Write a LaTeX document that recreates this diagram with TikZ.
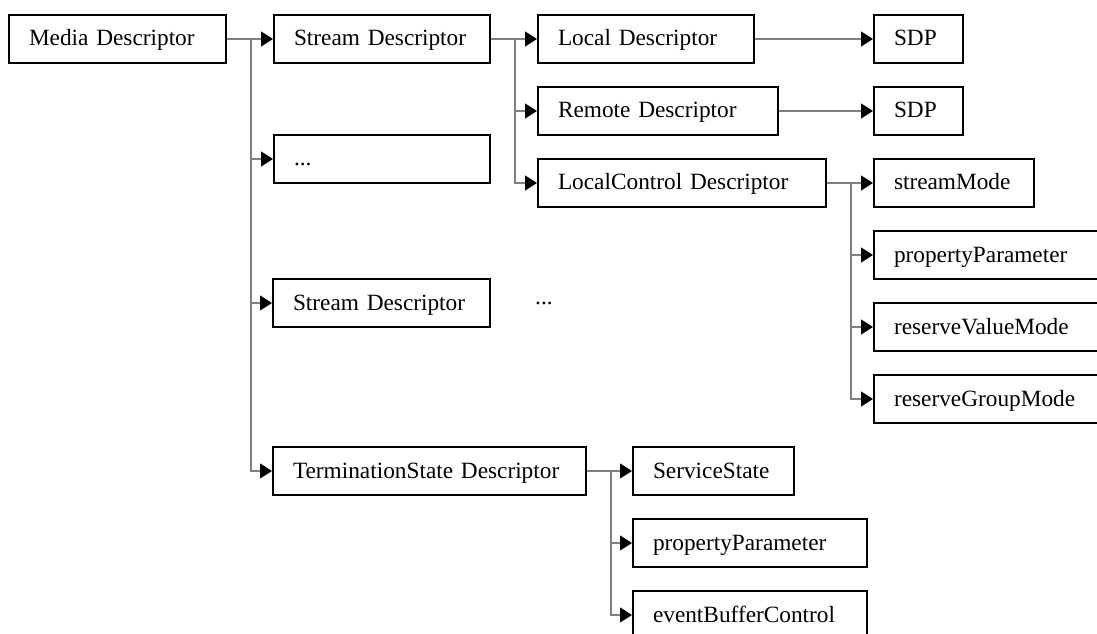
\documentclass[tikz,border=0pt]{standalone}
\usepackage{fontspec}
\setmainfont{Liberation Serif}
\usetikzlibrary{arrows.meta}

\tikzset{
  box/.style 2 args={draw=black, line width=2bp, anchor=north west,
    minimum width=#1, minimum height=48bp, text width=#1-40bp,
    inner xsep=20bp, inner ysep=0pt, align=left,
    text height=16bp, text depth=2bp,
    font=\fontsize{23.3bp}{28bp}\selectfont},
  conn/.style={draw=black!50, line width=1.2bp,
    -{Triangle[length=12bp, width=15bp, color=black, fill=black]}},
  plain/.style={anchor=base west, inner sep=0pt,
    font=\fontsize{23.3bp}{28bp}\selectfont}
}

\begin{document}
\begin{tikzpicture}[x=1bp, y=-1bp]
  \useasboundingbox (0,0) rectangle (1097,634);

  % first column
  \node[box={217bp}{}] (media) at (8,14) {Media Descriptor};

  % second column
  \node[box={216bp}{}] (sd1)  at (273,14)  {Stream Descriptor};
  \node[box={216bp}{}] (dots) at (273,134) {...};
  \node[box={217bp}{}] (sd2)  at (272,278) {Stream Descriptor};
  \node[box={313bp}{}] (term) at (272,446) {TerminationState Descriptor};
  \node[plain] (more) at (535,305) {...};

  % stream descriptor children
  \node[box={216bp}{}] (local)  at (537,14)  {Local Descriptor};
  \node[box={240bp}{}] (remote) at (537,86)  {Remote Descriptor};
  \node[box={288bp}{}] (lctrl)  at (537,158) {LocalControl Descriptor};

  \node[box={89bp}{}]  (sdpa) at (873,14) {SDP};
  \node[box={89bp}{}]  (sdpb) at (873,86) {SDP};

  % local control children
  \node[box={160bp}{}] (smode) at (873,158) {streamMode};
  \node[box={240bp}{}] (ppa)   at (873,230) {propertyParameter};
  \node[box={240bp}{}] (rvm)   at (873,302) {reserveValueMode};
  \node[box={240bp}{}] (rgm)   at (873,374) {reserveGroupMode};

  % termination state children
  \node[box={161bp}{}] (ss)  at (632,446) {ServiceState};
  \node[box={234bp}{}] (ppb) at (632,518) {propertyParameter};
  \node[box={234bp}{}] (ebc) at (632,590) {eventBufferControl};

  % connectors
  \draw[conn] (media.east) -- (sd1.west);
  \draw[conn] (media.east) -- ++(24,0) |- (dots.west);
  \draw[conn] (media.east) -- ++(24,0) |- (sd2.west);
  \draw[conn] (media.east) -- ++(24,0) |- (term.west);

  \draw[conn] (sd1.east) -- (local.west);
  \draw[conn] (sd1.east) -- ++(24,0) |- (remote.west);
  \draw[conn] (sd1.east) -- ++(24,0) |- (lctrl.west);

  \draw[conn] (local.east) -- (sdpa.west);
  \draw[conn] (remote.east) -- (sdpb.west);

  \draw[conn] (lctrl.east) -- (smode.west);
  \draw[conn] (lctrl.east) -- ++(24,0) |- (ppa.west);
  \draw[conn] (lctrl.east) -- ++(24,0) |- (rvm.west);
  \draw[conn] (lctrl.east) -- ++(24,0) |- (rgm.west);

  \draw[conn] (term.east) -- (ss.west);
  \draw[conn] (term.east) -- ++(24,0) |- (ppb.west);
  \draw[conn] (term.east) -- ++(24,0) |- (ebc.west);
\end{tikzpicture}
\end{document}
